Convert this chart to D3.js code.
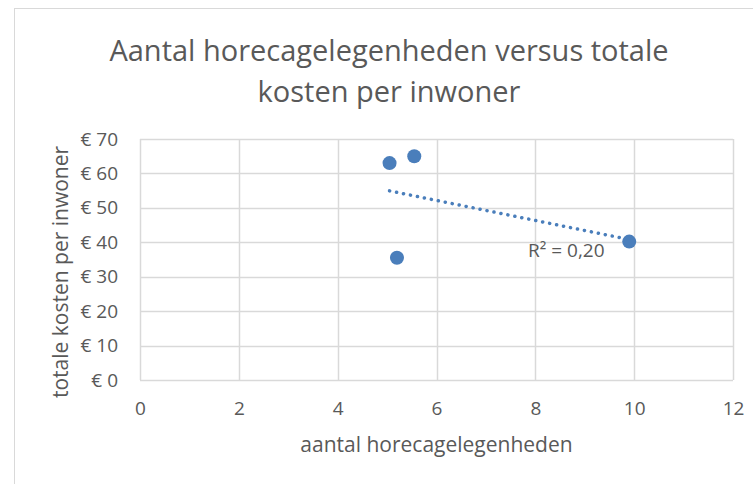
<!DOCTYPE html>
<html>
<head>
<meta charset="utf-8">
<script src="https://cdn.jsdelivr.net/npm/d3@7/dist/d3.min.js"></script>
<style>
  body { margin: 0; background: #fff; }
  text { font-family: "Open Sans", "Noto Sans", sans-serif; fill: #595959; }
</style>
</head>
<body>
<div id="chart"></div>
<script>
// data
var horeca = [5.05, 5.55, 5.2, 9.9];
var kosten = [63.0, 65.0, 35.5, 40.2];
var xTicks = [0, 2, 4, 6, 8, 10, 12];
var yTicks = [0, 10, 20, 30, 40, 50, 60, 70];
var titleLines = ["Aantal horecagelegenheden versus totale", "kosten per inwoner"];

var W = 753, H = 484;
var plot = {left: 140, right: 733, top: 139, bottom: 380};

var svg = d3.select("#chart").append("svg")
    .attr("width", W)
    .attr("height", H);

// chart frame
svg.append("rect")
    .attr("x", 14.5).attr("y", 8.5)
    .attr("width", W).attr("height", H)
    .attr("fill", "#fff")
    .attr("stroke", "#d9d9d9");

var xScale = d3.scaleLinear().domain([0, 12]).range([plot.left, plot.right]);
var yScale = d3.scaleLinear().domain([0, 70]).range([plot.bottom, plot.top]);

// gridlines
svg.append("g").selectAll("line")
    .data(yTicks)
    .enter().append("line")
    .attr("x1", plot.left).attr("x2", plot.right)
    .attr("y1", function (d) { return Math.round(yScale(d)) + 0.5; })
    .attr("y2", function (d) { return Math.round(yScale(d)) + 0.5; })
    .attr("stroke", "#d9d9d9").attr("stroke-width", 1.5);

svg.append("g").selectAll("line")
    .data(xTicks)
    .enter().append("line")
    .attr("y1", plot.top).attr("y2", plot.bottom)
    .attr("x1", function (d) { return Math.round(xScale(d)) + 0.5; })
    .attr("x2", function (d) { return Math.round(xScale(d)) + 0.5; })
    .attr("stroke", "#d9d9d9").attr("stroke-width", 1.5);

// axes (labels only)
var yAxis = d3.axisLeft(yScale)
    .tickValues(yTicks)
    .tickSize(0)
    .tickPadding(22)
    .tickFormat(function (d) { return "€ " + d; });

var yg = svg.append("g")
    .attr("transform", "translate(" + plot.left + ",0)")
    .call(yAxis);
yg.select(".domain").remove();
yg.selectAll("text").style("font-size", "19px").attr("fill", "#595959")
    .style("font-family", "'Open Sans', sans-serif");

var xAxis = d3.axisBottom(xScale)
    .tickValues(xTicks)
    .tickSize(0)
    .tickPadding(22);

var xg = svg.append("g")
    .attr("transform", "translate(0," + plot.bottom + ")")
    .call(xAxis);
xg.select(".domain").remove();
xg.selectAll("text").style("font-size", "19px").attr("fill", "#595959")
    .style("font-family", "'Open Sans', sans-serif");

// linear trendline
var mx = d3.mean(horeca), my = d3.mean(kosten);
var sxy = d3.sum(horeca, function (x, i) { return (x - mx) * (kosten[i] - my); });
var sxx = d3.sum(horeca, function (x) { return (x - mx) * (x - mx); });
var syy = d3.sum(kosten, function (y) { return (y - my) * (y - my); });
var slope = sxy / sxx, icpt = my - slope * mx;
var r2 = sxy * sxy / (sxx * syy);
var x0 = d3.min(horeca), x1 = d3.max(horeca);

svg.append("line")
    .attr("x1", xScale(x0)).attr("y1", yScale(icpt + slope * x0))
    .attr("x2", xScale(x1)).attr("y2", yScale(icpt + slope * x1))
    .attr("stroke", "#4a7ebb")
    .attr("stroke-width", 3.5)
    .attr("stroke-linecap", "round")
    .attr("stroke-dasharray", "0.1 7");

// points
svg.append("g").selectAll("circle")
    .data(horeca)
    .enter().append("circle")
    .attr("cx", function (d) { return xScale(d); })
    .attr("cy", function (d, i) { return yScale(kosten[i]); })
    .attr("r", 7)
    .attr("fill", "#4a7ebb");

// R² label
svg.append("text")
    .attr("x", 528).attr("y", 257)
    .style("font-size", "19px")
    .text("R² = " + r2.toFixed(2).replace(".", ","));

// title
svg.append("g").selectAll("text")
    .data(titleLines)
    .enter().append("text")
    .attr("x", 389)
    .attr("y", function (d, i) { return 61 + i * 41; })
    .attr("text-anchor", "middle")
    .style("font-size", "29px")
    .text(function (d) { return d; });

// axis titles
svg.append("text")
    .attr("x", xScale(6))
    .attr("y", 452)
    .attr("text-anchor", "middle")
    .style("font-size", "21px")
    .text("aantal horecagelegenheden");

svg.append("text")
    .attr("transform", "translate(68,272) rotate(-90)")
    .attr("text-anchor", "middle")
    .style("font-size", "21px")
    .text("totale kosten per inwoner");
</script>
</body>
</html>
